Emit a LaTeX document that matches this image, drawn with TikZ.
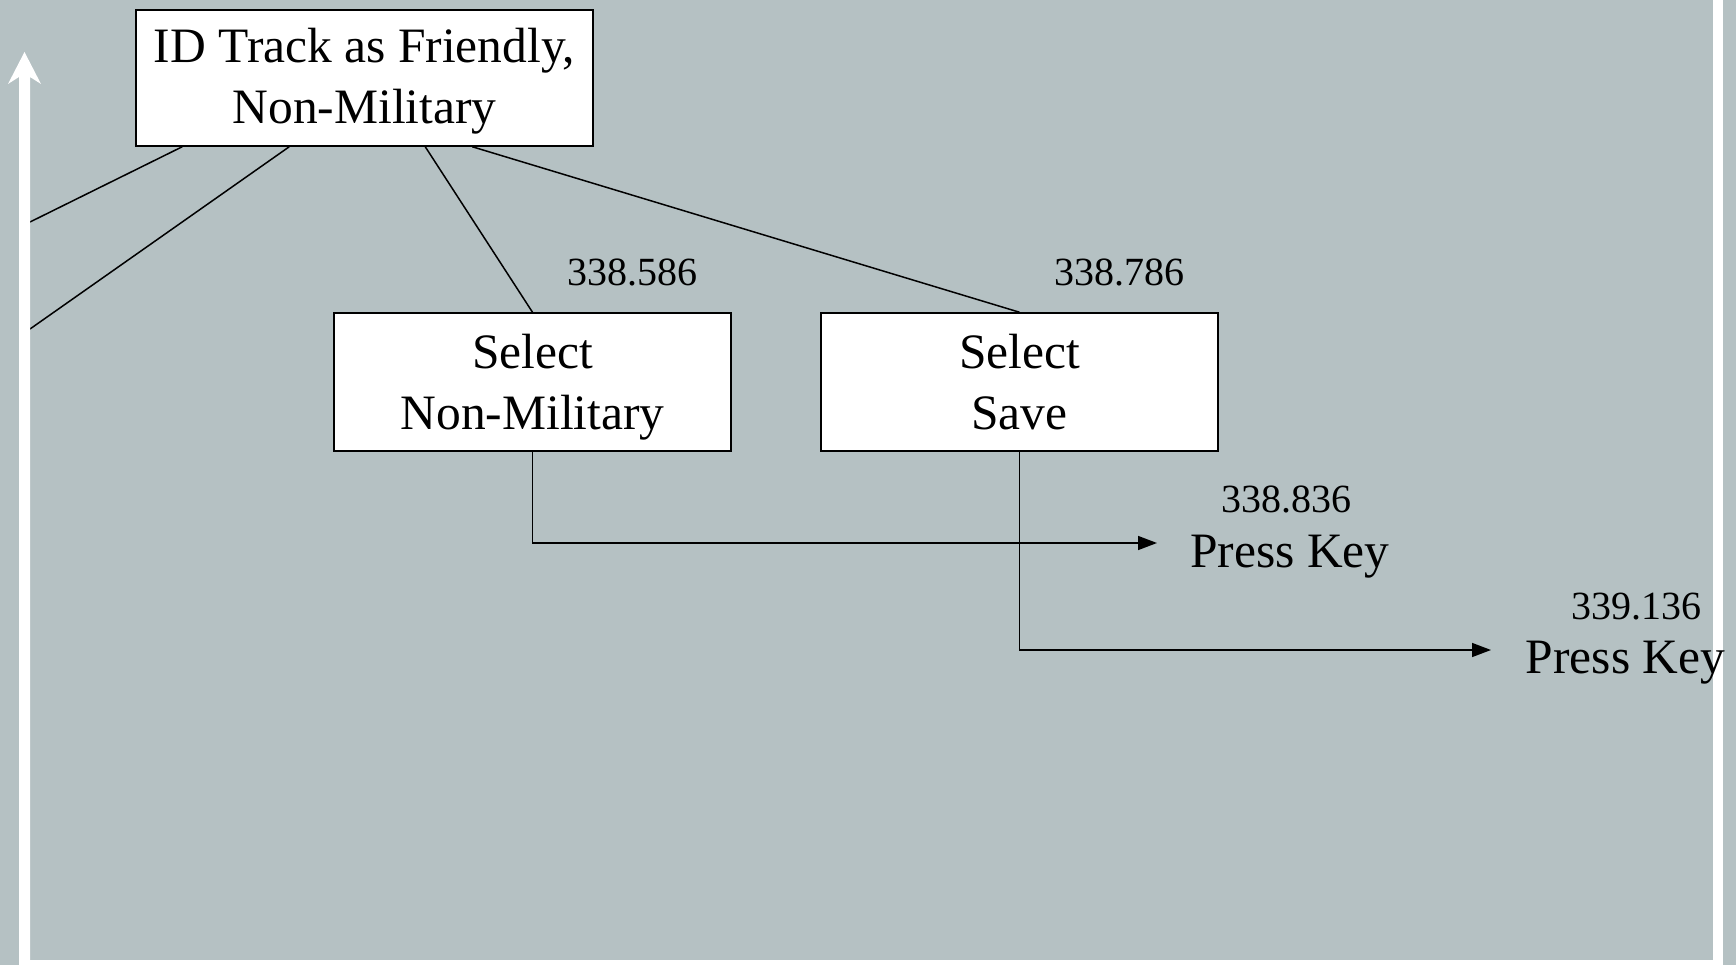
\documentclass[tikz,border=0pt]{standalone}
\usepackage{fontspec}
\setmainfont{Liberation Serif}
\usetikzlibrary{arrows.meta,calc}
\definecolor{bg}{RGB}{181,193,195}
\newcommand{\twolines}[2]{\begin{tabular}[t]{@{}c@{}}#1\\#2\end{tabular}}
\begin{document}
\begin{tikzpicture}[x=1pt,y=-1pt,
  box/.style={draw=black, line width=1.5pt, fill=white, inner sep=0pt,
    font=\fontsize{49.5}{61}\selectfont},
  num/.style={inner sep=0pt, anchor=base west, font=\fontsize{40}{48}\selectfont},
  key/.style={inner sep=0pt, anchor=base west, font=\fontsize{49.5}{61}\selectfont},
  conn/.style={line width=1.5pt},
  arr/.style={conn, -{Triangle[length=19pt,width=14pt]}}]
\fill[bg] (0,0) rectangle (1736,965);
\useasboundingbox (0,0) rectangle (1736,965);
\fill[white] (30,960) rectangle (1713,965);
\fill[white] (1713,0) rectangle (1723,965);

\node[box, minimum width=457pt, text height=52.4pt, text depth=83.6pt] (id) at (364.5,78) {\twolines{ID Track as Friendly,}{Non-Military}};
\node[box, minimum width=397pt, text height=55.5pt, text depth=82.5pt] (nm) at (532.5,382) {\twolines{Select}{Non-Military}};
\node[box, minimum width=397pt, text height=55.5pt, text depth=82.5pt] (sv) at (1019.5,382) {\twolines{Select}{Save}};

\node[num] (n1) at (567,285.6) {338.586};
\node[num] (n2) at (1054,285.6) {338.786};
\node[num] (n3) at (1221,512.6) {338.836};
\node[key] (k1) at (1190,567) {Press Key};
\node[num] (n4) at (1571,619) {339.136};
\node[key] (k2) at (1525.6,673) {Press Key};

\coordinate (l1) at (30,222);
\coordinate (l2) at (30,329);
\coordinate (t1) at (1157,543);
\coordinate (t2) at (1491,650);

\draw[conn] ($(id.south west)+(47,0)$) -- (l1);
\draw[conn] ($(id.south west)+(154,0)$) -- (l2);
\draw[conn] ($(id.south west)+(290,0)$) -- (nm.north);
\draw[conn] ($(id.south west)+(337,0)$) -- (sv.north);

\draw[arr] (nm.south) |- (t1);
\draw[arr] (sv.south) |- (t2);

\fill[white] (24.5,52) -- (41,84) -- (30,77) -- (30,965) -- (19,965) -- (19,77) -- (8,84) -- cycle;
\end{tikzpicture}
\end{document}
